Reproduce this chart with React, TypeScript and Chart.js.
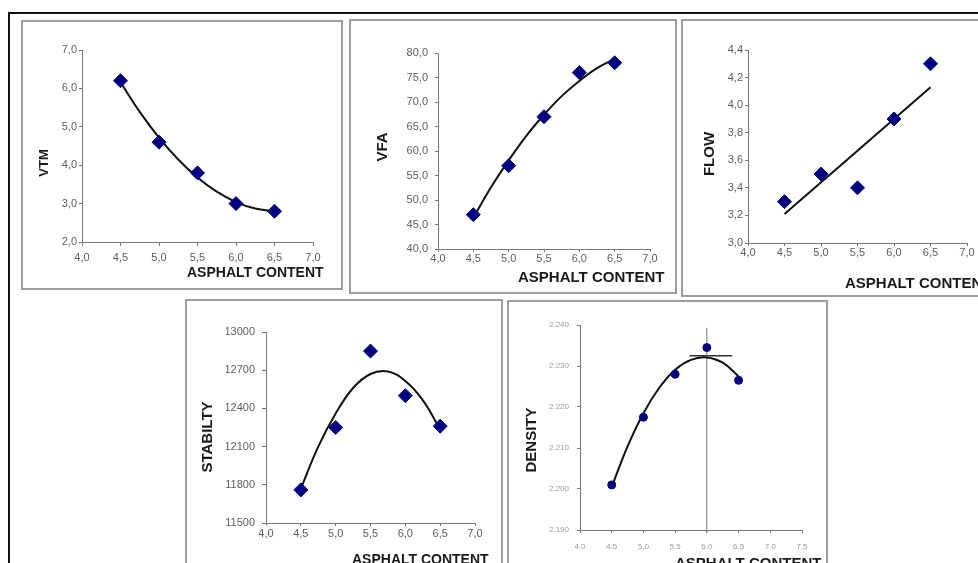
import React, { useEffect, useRef } from "react";
import { Chart, registerables } from "chart.js";

Chart.register(...registerables);

const FONT = "'Liberation Sans', Arial, sans-serif";

// ---------- data ----------
const asphaltContent = [4.5, 5.0, 5.5, 6.0, 6.5];
const vtmValues = [6.2, 4.6, 3.8, 3.0, 2.8];
const vfaValues = [47, 57, 67, 76, 78];
const flowValues = [3.3, 3.5, 3.4, 3.9, 4.3];
const stabilityValues = [11760, 12250, 12850, 12500, 12260];
const densityValues = [2.201, 2.2175, 2.228, 2.2345, 2.2265];

// trend curves
const trendAsphalt = [4.5, 4.75, 5.0, 5.25, 5.5, 5.75, 6.0, 6.25, 6.5];
const vtmTrend = [6.16, 5.39, 4.72, 4.15, 3.68, 3.31, 3.04, 2.87, 2.8];
const vfaTrend = [46.4, 52.6, 58.1, 63.1, 67.4, 71.2, 74.3, 76.9, 78.8];
const flowTrendAsphalt = [4.5, 6.5];
const flowTrend = [3.21, 4.13];
const stabilityTrend = [11770, 12100, 12360, 12560, 12670, 12690, 12615, 12465, 12235];
const densityTrend = [2.2005, 2.2104, 2.2185, 2.2247, 2.2291, 2.2315, 2.2321, 2.2308, 2.2275];

// density optimum guides
const densityOptimumAsphalt = [6.0, 6.0];
const densityOptimumSpan = [2.1893, 2.2393];
const densityPeakAsphaltSpan = [5.73, 6.4];
const densityPeakLevel = [2.2325, 2.2325];

const xTitle = "ASPHALT CONTENT";

const MARKER = "#000080";
const AXIS = "#7a7a7a";
const TICK = "#5e5e5e";
const TITLE = "#1a1a1a";

type AxisSpec = {
  min: number;
  max: number;
  step: number;
  fmt: (v: number) => string;
  tl: number;
  pad: number;
  size: number;
  color: string;
};

type PanelSpec = {
  id: string;
  box: { left: number; top: number; width: number; height: number };
  pad: { left: number; top: number; right: number; bottom: number };
  x: AxisSpec;
  y: AxisSpec;
  yTitle: { text: string; x: number; y: number; size: number };
  xTitle: { text: string; x: number; y: number; size: number };
  values: number[];
  trendX: number[];
  trend: number[];
  radius: number;
  pointStyle: string;
  guides?: boolean;
};

const comma1 = (v: number) => Number(v).toFixed(1).replace(".", ",");
const dot1 = (v: number) => Number(v).toFixed(1);
const dot3 = (v: number) => Number(v).toFixed(3);
const int0 = (v: number) => String(Math.round(Number(v)));

const xComma = (tl: number, pad: number): AxisSpec => ({
  min: 4, max: 7, step: 0.5, fmt: comma1, tl, pad, size: 11, color: TICK,
});

const panels: PanelSpec[] = [
  {
    id: "vtm",
    box: { left: 21, top: 20, width: 322, height: 270 },
    pad: { left: 21, top: 30, right: 30, bottom: 23 },
    x: xComma(4, 5),
    y: { min: 2, max: 7, step: 1, fmt: comma1, tl: 3, pad: 2, size: 11, color: TICK },
    yTitle: { text: "VTM", x: 23, y: 143, size: 13 },
    xTitle: { text: xTitle, x: 166, y: 257, size: 14 },
    values: vtmValues,
    trendX: trendAsphalt,
    trend: vtmTrend,
    radius: 7,
    pointStyle: "rectRot",
  },
  {
    id: "vfa",
    box: { left: 349, top: 19, width: 328, height: 275 },
    pad: { left: 49, top: 34, right: 27, bottom: 20 },
    x: xComma(3, 0),
    y: { min: 40, max: 80, step: 5, fmt: comma1, tl: 3, pad: 7, size: 11, color: TICK },
    yTitle: { text: "VFA", x: 34, y: 128, size: 15 },
    xTitle: { text: xTitle, x: 169, y: 263, size: 15 },
    values: vfaValues,
    trendX: trendAsphalt,
    trend: vfaTrend,
    radius: 7,
    pointStyle: "rectRot",
  },
  {
    id: "flow",
    box: { left: 681, top: 19, width: 320, height: 278 },
    pad: { left: 27, top: 31, right: 34, bottom: 29 },
    x: xComma(3, 0),
    y: { min: 3, max: 4.4, step: 0.2, fmt: comma1, tl: 3, pad: 2, size: 11, color: TICK },
    yTitle: { text: "FLOW", x: 29, y: 135, size: 15 },
    xTitle: { text: xTitle, x: 164, y: 269, size: 15 },
    values: flowValues,
    trendX: flowTrendAsphalt,
    trend: flowTrend,
    radius: 7,
    pointStyle: "rectRot",
  },
  {
    id: "stability",
    box: { left: 185, top: 299, width: 318, height: 280 },
    pad: { left: 41, top: 33, right: 28, bottom: 31 },
    x: xComma(3, 1),
    y: { min: 11500, max: 13000, step: 300, fmt: int0, tl: 4, pad: 7, size: 11, color: TICK },
    yTitle: { text: "STABILTY", x: 23, y: 138, size: 15 },
    xTitle: { text: xTitle, x: 167, y: 265, size: 14 },
    values: stabilityValues,
    trendX: trendAsphalt,
    trend: stabilityTrend,
    radius: 7,
    pointStyle: "rectRot",
  },
  {
    id: "density",
    box: { left: 507, top: 300, width: 321, height: 280 },
    pad: { left: 33, top: 25, right: 26, bottom: 25 },
    x: { min: 4, max: 7.5, step: 0.5, fmt: dot1, tl: 3, pad: 9, size: 8, color: "#9a9a9a" },
    y: { min: 2.19, max: 2.24, step: 0.01, fmt: dot3, tl: 3, pad: 8, size: 8, color: "#9a9a9a" },
    yTitle: { text: "DENSITY", x: 25, y: 140, size: 15 },
    xTitle: { text: xTitle, x: 168, y: 268, size: 15 },
    values: densityValues,
    trendX: trendAsphalt,
    trend: densityTrend,
    radius: 4,
    pointStyle: "circle",
    guides: true,
  },
];

const Y_W = 40;
const X_H = 25;

function axisOptions(a: AxisSpec, horizontal: boolean) {
  return {
    type: "linear",
    min: a.min,
    max: a.max,
    ticks: {
      stepSize: a.step,
      autoSkip: false,
      maxRotation: 0,
      minRotation: 0,
      padding: a.pad,
      color: a.color,
      font: { family: FONT, size: a.size },
      callback: (v: any) => a.fmt(Number(v)),
    },
    grid: {
      display: true,
      drawOnChartArea: false,
      drawTicks: true,
      tickLength: a.tl,
      color: AXIS,
      lineWidth: 1,
    },
    border: { display: true, color: AXIS, width: 1 },
    title: { display: false },
    afterFit: (s: any) => {
      if (horizontal) s.height = X_H;
      else s.width = Y_W;
    },
  };
}

function buildConfig(p: PanelSpec): any {
  const titles = {
    id: "panelTitles_" + p.id,
    afterDraw(chart: any) {
      const ctx = chart.ctx as CanvasRenderingContext2D;
      ctx.save();
      ctx.fillStyle = TITLE;
      ctx.font = `bold ${p.yTitle.size}px ${FONT}`;
      ctx.translate(p.yTitle.x, p.yTitle.y);
      ctx.rotate(-Math.PI / 2);
      ctx.textAlign = "center";
      ctx.textBaseline = "middle";
      ctx.fillText(p.yTitle.text, 0, 0);
      ctx.restore();
      ctx.save();
      ctx.fillStyle = TITLE;
      ctx.font = `bold ${p.xTitle.size}px ${FONT}`;
      ctx.textAlign = "left";
      ctx.textBaseline = "alphabetic";
      ctx.fillText(p.xTitle.text, p.xTitle.x, p.xTitle.y);
      ctx.restore();
    },
  };

  const datasets: any[] = [
    {
      label: p.id,
      data: asphaltContent.map((x, i) => ({ x, y: p.values[i] })),
      showLine: false,
      pointStyle: p.pointStyle,
      pointRadius: p.radius,
      pointBackgroundColor: MARKER,
      pointBorderColor: MARKER,
      pointBorderWidth: 1,
      order: 0,
      clip: false,
    },
    {
      label: p.id + " trend",
      data: p.trendX.map((x, i) => ({ x, y: p.trend[i] })),
      showLine: true,
      borderColor: "#111",
      borderWidth: 2,
      pointRadius: 0,
      tension: 0.4,
      order: 1,
      clip: false,
    },
  ];
  if (p.guides) {
    datasets.push({
      label: "optimum",
      data: densityOptimumAsphalt.map((x, i) => ({ x, y: densityOptimumSpan[i] })),
      showLine: true,
      borderColor: "#777",
      borderWidth: 1,
      pointRadius: 0,
      order: 2,
      clip: false,
    });
    datasets.push({
      label: "peak",
      data: densityPeakAsphaltSpan.map((x, i) => ({ x, y: densityPeakLevel[i] })),
      showLine: true,
      borderColor: "#333",
      borderWidth: 1.5,
      pointRadius: 0,
      order: 2,
      clip: false,
    });
  }

  return {
    type: "scatter",
    data: { datasets },
    options: {
      responsive: false,
      animation: false,
      devicePixelRatio: 1,
      layout: { padding: p.pad },
      plugins: { legend: { display: false }, tooltip: { enabled: false } },
      scales: {
        x: axisOptions(p.x, true),
        y: axisOptions(p.y, false),
      },
    },
    plugins: [titles],
  };
}

function Panel({ spec }: { spec: PanelSpec }) {
  const ref = useRef<HTMLCanvasElement | null>(null);
  useEffect(() => {
    if (!ref.current) return;
    const chart = new Chart(ref.current, buildConfig(spec));
    return () => chart.destroy();
  }, [spec]);
  const { left, top, width, height } = spec.box;
  return (
    <div style={{ position: "absolute", left, top, width, height, background: "#fff" }}>
      <canvas
        ref={ref}
        width={width}
        height={height}
        style={{ display: "block", width, height }}
      />
      <div
        style={{
          position: "absolute",
          left: 0,
          top: 0,
          width,
          height,
          boxSizing: "border-box",
          border: "2px solid #9d9d9d",
          pointerEvents: "none",
        }}
      />
    </div>
  );
}

export default function App() {
  return (
    <div
      style={{
        position: "absolute",
        left: 0,
        top: 0,
        width: 978,
        height: 563,
        overflow: "hidden",
        background: "#fff",
      }}
    >
      <div
        style={{
          position: "absolute",
          left: 8,
          top: 12,
          width: 990,
          height: 570,
          borderTop: "2px solid #111",
          borderLeft: "2px solid #111",
        }}
      />
      {panels.map((p) => (
        <Panel key={p.id} spec={p} />
      ))}
    </div>
  );
}
